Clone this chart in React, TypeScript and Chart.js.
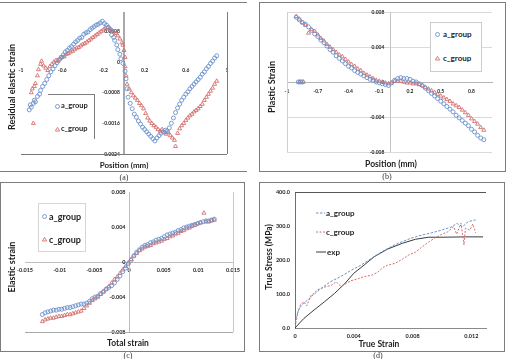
import React, { useEffect, useRef } from "react";
import { Chart, registerables } from "chart.js";

Chart.register(...registerables);

type Pt = [number, number];

const GROUP_A = "a_group";
const GROUP_C = "c_group";
const EXP_LABEL = "exp";

// ---------- (a) residual elastic strain vs. position ----------
const positionTicksA = [-1, -0.6, -0.2, 0.2, 0.6, 1];
const residualTicks = [-0.0024, -0.0016, -0.0008, 0, 0.0008];
const residualA: Pt[] = [
  [-0.92, -0.00125], [-0.91, -0.00112], [-0.9, -0.00118], [-0.88, -0.00108], [-0.87, -0.001],
  [-0.86, -0.00104], [-0.84, -0.0009], [-0.82, -0.00084], [-0.81, -0.00074], [-0.79, -0.00064],
  [-0.77, -0.00056], [-0.75, -0.00046], [-0.73, -0.00036], [-0.71, -0.00026], [-0.69, -0.00018],
  [-0.67, -0.0001], [-0.65, -0.00002], [-0.63, 0.00006], [-0.61, 0.00012], [-0.59, 0.00018],
  [-0.57, 0.00026], [-0.55, 0.0003], [-0.53, 0.00036], [-0.51, 0.0004], [-0.49, 0.00046],
  [-0.47, 0.00052], [-0.45, 0.00056], [-0.43, 0.00062], [-0.41, 0.00064], [-0.39, 0.00072],
  [-0.37, 0.00076], [-0.35, 0.00078], [-0.33, 0.00084], [-0.31, 0.00088], [-0.29, 0.00092],
  [-0.27, 0.00096], [-0.25, 0.00098], [-0.23, 0.00102], [-0.21, 0.00106], [-0.19, 0.001],
  [-0.17, 0.00096], [-0.15, 0.0009], [-0.13, 0.00084], [-0.12, 0.0007], [-0.1, 0.00064],
  [-0.09, 0.00056], [-0.07, 0.00044], [-0.06, 0.00032], [-0.04, 0.0002], [-0.03, 0.00008],
  [-0.01, -0.00004], [0.01, -0.00024], [0.02, -0.00044], [0.03, -0.0007], [0.04, -0.00092],
  [0.06, -0.00108], [0.08, -0.00122], [0.1, -0.00136], [0.12, -0.00144], [0.14, -0.00154],
  [0.16, -0.00162], [0.18, -0.0017], [0.2, -0.00176], [0.22, -0.00182], [0.24, -0.00188],
  [0.26, -0.00194], [0.28, -0.002], [0.3, -0.00206], [0.32, -0.00198], [0.34, -0.00192],
  [0.36, -0.00186], [0.38, -0.00182], [0.4, -0.00178], [0.42, -0.0018], [0.44, -0.00172],
  [0.46, -0.0016], [0.48, -0.00146], [0.5, -0.00132], [0.52, -0.0012], [0.54, -0.0011],
  [0.56, -0.001], [0.58, -0.00092], [0.6, -0.00084], [0.62, -0.00078], [0.64, -0.0007],
  [0.66, -0.00064], [0.68, -0.00058], [0.7, -0.00052], [0.72, -0.00046], [0.74, -0.0004],
  [0.76, -0.00032], [0.78, -0.00026], [0.8, -0.00018], [0.82, -0.00012], [0.84, -0.00004],
  [0.86, 0.00002], [0.88, 0.0001], [0.9, 0.00016],
];
const residualC: Pt[] = [
  [-0.9, -0.0008], [-0.89, -0.0007], [-0.88, -0.0016], [-0.87, -0.00064], [-0.86, -0.00056],
  [-0.84, -0.00036], [-0.83, -0.0002], [-0.81, -0.00006], [-0.8, 0.00002], [-0.78, -0.0001],
  [-0.76, -0.00016], [-0.74, -0.00022], [-0.72, -0.00012], [-0.7, -0.00006], [-0.68, 0.0],
  [-0.66, 0.00004], [-0.64, 0.00002], [-0.62, 0.00008], [-0.6, 0.00012], [-0.58, 0.00014],
  [-0.56, 0.0002], [-0.54, 0.00022], [-0.52, 0.00026], [-0.5, 0.00028], [-0.48, 0.00032],
  [-0.46, 0.00036], [-0.44, 0.00038], [-0.42, 0.00042], [-0.4, 0.00046], [-0.38, 0.00048],
  [-0.36, 0.00052], [-0.34, 0.00056], [-0.32, 0.0006], [-0.3, 0.00064], [-0.28, 0.00068],
  [-0.26, 0.00072], [-0.24, 0.00076], [-0.22, 0.0008], [-0.2, 0.00084], [-0.18, 0.00088],
  [-0.16, 0.0009], [-0.14, 0.00086], [-0.12, 0.00082], [-0.1, 0.00078], [-0.08, 0.00074],
  [-0.06, 0.00068], [-0.04, 0.0006], [-0.02, 0.0005], [-0.01, 0.00044], [0.0, 0.0003],
  [0.01, 0.00012], [0.01, -0.00012], [0.02, -0.00036], [0.03, -0.00058], [0.05, -0.0007],
  [0.07, -0.0008], [0.09, -0.00088], [0.11, -0.00094], [0.13, -0.001], [0.15, -0.00108],
  [0.17, -0.00114], [0.19, -0.00122], [0.21, -0.00134], [0.23, -0.00146], [0.25, -0.00154],
  [0.27, -0.0016], [0.29, -0.00166], [0.31, -0.0017], [0.33, -0.00176], [0.35, -0.0018],
  [0.37, -0.00176], [0.39, -0.00184], [0.41, -0.00188], [0.43, -0.00184], [0.45, -0.00192],
  [0.47, -0.00198], [0.49, -0.00204], [0.5, -0.0022], [0.52, -0.00186], [0.54, -0.00174],
  [0.56, -0.00166], [0.58, -0.0016], [0.6, -0.00152], [0.62, -0.00146], [0.64, -0.0014],
  [0.66, -0.00136], [0.68, -0.0013], [0.7, -0.00126], [0.72, -0.00122], [0.74, -0.00116],
  [0.76, -0.0011], [0.78, -0.001], [0.8, -0.00092], [0.82, -0.00084], [0.84, -0.00076],
  [0.86, -0.00068], [0.88, -0.00058], [0.9, -0.0005],
];

// ---------- (b) plastic strain vs. position ----------
const positionTicksB = [-1, -0.7, -0.4, -0.1, 0.2, 0.5, 0.8];
const plasticTicks = [-0.008, -0.004, 0, 0.004, 0.008];
const plasticA: Pt[] = [
  [-0.89, 0], [-0.87, 0], [-0.85, 0],
  [-0.91, 0.0074], [-0.88, 0.0071], [-0.85, 0.0068], [-0.82, 0.0066], [-0.79, 0.0063],
  [-0.76, 0.0059], [-0.73, 0.0055], [-0.7, 0.0052], [-0.67, 0.0048], [-0.64, 0.0045],
  [-0.61, 0.0041], [-0.58, 0.0037], [-0.55, 0.0034], [-0.52, 0.003], [-0.49, 0.0027],
  [-0.46, 0.0024], [-0.43, 0.0021], [-0.4, 0.0018], [-0.37, 0.0016], [-0.34, 0.0013],
  [-0.31, 0.0011], [-0.28, 0.0009], [-0.25, 0.0007], [-0.22, 0.0005], [-0.19, 0.0003],
  [-0.16, 0.0002], [-0.13, 0.0], [-0.1, -0.0001], [-0.07, -0.0002], [-0.04, -0.0003],
  [-0.01, -0.0004], [0.02, -0.0001], [0.05, 0.0002], [0.08, 0.0004], [0.11, 0.0005],
  [0.14, 0.0004], [0.17, 0.0004], [0.2, 0.0003], [0.23, 0.0001], [0.26, 0.0],
  [0.29, -0.0002], [0.32, -0.0004], [0.35, -0.0007], [0.38, -0.001], [0.41, -0.0013],
  [0.44, -0.0016], [0.47, -0.0019], [0.5, -0.0022], [0.53, -0.0025], [0.56, -0.0028],
  [0.59, -0.0031], [0.62, -0.0034], [0.65, -0.0038], [0.68, -0.0041], [0.71, -0.0044],
  [0.74, -0.0047], [0.77, -0.005], [0.8, -0.0054], [0.83, -0.0057], [0.86, -0.0061],
  [0.89, -0.0064], [0.92, -0.0066],
];
const plasticC: Pt[] = [
  [-0.88, 0], [-0.86, 0], [-0.84, 0],
  [-0.91, 0.0075], [-0.88, 0.0072], [-0.85, 0.0068], [-0.82, 0.0065], [-0.79, 0.0056],
  [-0.76, 0.006], [-0.73, 0.0058], [-0.7, 0.0054], [-0.67, 0.005], [-0.64, 0.0047],
  [-0.61, 0.0043], [-0.58, 0.004], [-0.55, 0.0037], [-0.52, 0.0034], [-0.49, 0.0031],
  [-0.46, 0.0029], [-0.43, 0.0026], [-0.4, 0.0023], [-0.37, 0.002], [-0.34, 0.0018],
  [-0.31, 0.0015], [-0.28, 0.0013], [-0.25, 0.001], [-0.22, 0.0008], [-0.19, 0.0006],
  [-0.16, 0.0004], [-0.13, 0.0002], [-0.1, 0.0001], [-0.07, 0.0], [-0.04, -0.0001],
  [-0.01, -0.0002], [0.02, -0.0001], [0.05, 0.0001], [0.08, 0.0001], [0.11, 0.0001],
  [0.14, 0.0], [0.17, -0.0001], [0.2, -0.0001], [0.23, -0.0002], [0.26, -0.0002],
  [0.29, -0.0003], [0.32, -0.0004], [0.35, -0.0006], [0.38, -0.0008], [0.41, -0.001],
  [0.44, -0.0012], [0.47, -0.0014], [0.5, -0.0016], [0.53, -0.0018], [0.56, -0.002],
  [0.59, -0.0022], [0.62, -0.0025], [0.65, -0.0027], [0.68, -0.0029], [0.71, -0.0032],
  [0.74, -0.0035], [0.77, -0.0038], [0.8, -0.0042], [0.83, -0.0045], [0.86, -0.0048],
  [0.89, -0.0052], [0.92, -0.0055],
];

// ---------- (c) elastic strain vs. total strain ----------
const totalStrainTicks = [-0.015, -0.01, -0.005, 0, 0.005, 0.01, 0.015];
const elasticTicks = [-0.008, -0.004, 0, 0.004, 0.008];
const elasticA: Pt[] = [
  [-0.0125, -0.006], [-0.0121, -0.0058], [-0.0117, -0.0057], [-0.0113, -0.0056], [-0.0109, -0.0055],
  [-0.0105, -0.0055], [-0.0101, -0.0054], [-0.0097, -0.0054], [-0.0093, -0.0053], [-0.0089, -0.0052],
  [-0.0085, -0.0052], [-0.0081, -0.0051], [-0.0077, -0.005], [-0.0073, -0.0049], [-0.0069, -0.0048],
  [-0.0065, -0.0048], [-0.0061, -0.0047], [-0.0057, -0.0045], [-0.0053, -0.0042], [-0.0049, -0.004],
  [-0.0045, -0.0039], [-0.0041, -0.0036], [-0.0037, -0.0034], [-0.0033, -0.0031], [-0.0029, -0.0029],
  [-0.0025, -0.0027], [-0.0021, -0.0024], [-0.0017, -0.002], [-0.0013, -0.0016], [-0.0009, -0.0011],
  [-0.0005, -0.0007], [-0.0001, -0.0002], [0.0003, 0.0002], [0.0007, 0.0007], [0.0011, 0.0011],
  [0.0015, 0.0014], [0.0019, 0.0017], [0.0023, 0.0019], [0.0027, 0.002], [0.0031, 0.0022],
  [0.0035, 0.0023], [0.0039, 0.0025], [0.0043, 0.0026], [0.0047, 0.0027], [0.0051, 0.0029],
  [0.0055, 0.0031], [0.0059, 0.0032], [0.0063, 0.0033], [0.0067, 0.0034], [0.0071, 0.0036],
  [0.0075, 0.0037], [0.0079, 0.0039], [0.0083, 0.004], [0.0087, 0.0041], [0.0091, 0.0042],
  [0.0095, 0.0043], [0.0099, 0.0044], [0.0103, 0.0045], [0.0107, 0.0046], [0.0111, 0.0047],
  [0.0115, 0.0047], [0.0119, 0.0048], [0.0123, 0.0049],
];
const elasticC: Pt[] = [
  [-0.0125, -0.0068], [-0.0121, -0.0066], [-0.0117, -0.0065], [-0.0113, -0.0064], [-0.0109, -0.0064],
  [-0.0105, -0.0063], [-0.0101, -0.0062], [-0.0097, -0.0062], [-0.0093, -0.0061], [-0.0089, -0.006],
  [-0.0085, -0.006], [-0.0081, -0.0059], [-0.0077, -0.0058], [-0.0073, -0.0057], [-0.0069, -0.0056],
  [-0.0065, -0.0053], [-0.0061, -0.005], [-0.0057, -0.0047], [-0.0053, -0.0044], [-0.0049, -0.0042],
  [-0.0045, -0.004], [-0.0041, -0.0037], [-0.0037, -0.0034], [-0.0033, -0.0031], [-0.0029, -0.0028],
  [-0.0025, -0.0024], [-0.0021, -0.002], [-0.0017, -0.0017], [-0.0013, -0.0013], [-0.0009, -0.0009],
  [-0.0005, -0.0005], [-0.0001, -0.0001], [0.0003, 0.0003], [0.0007, 0.0007], [0.0011, 0.001],
  [0.0015, 0.0013], [0.0019, 0.0015], [0.0023, 0.0017], [0.0027, 0.0018], [0.0031, 0.0019],
  [0.0035, 0.0021], [0.0039, 0.0022], [0.0043, 0.0023], [0.0047, 0.0024], [0.0051, 0.0026],
  [0.0055, 0.0027], [0.0059, 0.0029], [0.0063, 0.003], [0.0067, 0.0032], [0.0071, 0.0033],
  [0.0075, 0.0035], [0.0079, 0.0036], [0.0083, 0.0038], [0.0087, 0.0039], [0.0091, 0.0041],
  [0.0095, 0.0042], [0.0099, 0.0044], [0.0103, 0.0045], [0.0108, 0.0056], [0.0111, 0.0046],
  [0.0115, 0.0046], [0.0119, 0.0047], [0.0123, 0.0048],
];

// ---------- (d) true stress vs. true strain ----------
const trueStrainTicks = [0, 0.004, 0.008, 0.012];
const stressTicks = [0, 100, 200, 300, 400];
const stressA: Pt[] = [
  [0.0, 4], [0.00005, 28], [0.0003, 58], [0.0006, 73], [0.0011, 92], [0.0018, 117], [0.0024, 136],
  [0.0031, 151], [0.0038, 169], [0.0045, 185], [0.0052, 205], [0.0059, 224], [0.0066, 241],
  [0.0073, 254], [0.0079, 264], [0.0086, 273], [0.0093, 280], [0.01, 288], [0.0107, 298],
  [0.011, 308], [0.0114, 298], [0.0118, 313], [0.0123, 318],
];
const stressC: Pt[] = [
  [0.0, 4], [0.0001, 24], [0.0002, 48], [0.0004, 71], [0.0006, 77], [0.0008, 65], [0.0011, 97],
  [0.0013, 102], [0.0015, 112], [0.002, 120], [0.0025, 126], [0.0028, 136], [0.0031, 123],
  [0.0034, 129], [0.0038, 139], [0.0043, 145], [0.0047, 151], [0.0052, 155], [0.0056, 163],
  [0.006, 178], [0.0063, 185], [0.0068, 190], [0.0073, 202], [0.0077, 214], [0.0082, 223],
  [0.0086, 237], [0.0091, 253], [0.0095, 264], [0.01, 276], [0.0104, 283], [0.0108, 298],
  [0.011, 276], [0.0113, 308], [0.0115, 244], [0.0116, 293], [0.0119, 288], [0.0121, 306],
  [0.0123, 280],
];
const stressExp: Pt[] = [
  [0.0, 0], [0.0006, 28], [0.0013, 53], [0.002, 77], [0.0027, 102], [0.0034, 131], [0.004, 161],
  [0.0047, 185], [0.0054, 210], [0.0063, 232], [0.0073, 249], [0.0082, 261], [0.0091, 267],
  [0.01, 267], [0.0116, 268], [0.0128, 268],
];

const BLUE = "#6b92cc";
const RED = "#d2706e";
const EXP_COLOR = "#3b3b3b";
const INK = "#1e1e1e";
const FONT = "Lato, 'Open Sans', sans-serif";

const tickFont = (size: number) => ({ family: FONT, size, weight: "bold" as const });
const fixTicks = (values: number[]) => (scale: any) => {
  scale.ticks = values.map((value) => ({ value }));
};
const fixHeight = (h: number) => (scale: any) => {
  scale.height = h;
};
const fixWidth = (w: number) => (scale: any) => {
  scale.width = w;
};
const asXY = (pts: Pt[]) => pts.map(([x, y]) => ({ x, y }));

// Plot-area frame sides and zero reference lines, drawn behind the data.
const guidesPlugin = {
  id: "guides",
  beforeDatasetsDraw(chart: any, _args: any, opts: any) {
    const { ctx, chartArea, scales } = chart;
    const { left, right, top, bottom } = chartArea;
    const stroke = (x1: number, y1: number, x2: number, y2: number, color: string, width: number) => {
      ctx.save();
      ctx.strokeStyle = color;
      ctx.lineWidth = width;
      ctx.beginPath();
      ctx.moveTo(x1, y1);
      ctx.lineTo(x2, y2);
      ctx.stroke();
      ctx.restore();
    };
    const frame = opts.frame || {};
    const a = (v: number) => Math.round(v) + 0.5;
    if (frame.top) stroke(left, a(top), right, a(top), frame.top, 1);
    if (frame.bottom) stroke(left, a(bottom), right, a(bottom), frame.bottom, 1);
    if (frame.left) stroke(a(left), top, a(left), bottom, frame.left, 1);
    if (frame.right) stroke(a(right), top, a(right), bottom, frame.right, 1);
    for (const g of opts.lines || []) {
      if (g.axis === "x") {
        const px = Math.round(scales.x.getPixelForValue(g.value)) + (g.width % 2 ? 0.5 : 0);
        stroke(px, top, px, bottom, g.color, g.width);
      } else {
        const py = Math.round(scales.y.getPixelForValue(g.value)) + (g.width % 2 ? 0.5 : 0);
        stroke(left, py, right, py, g.color, g.width);
      }
    }
  },
};

const scatterSet = (label: string, pts: Pt[], color: string, style: string) => ({
  label,
  data: asXY(pts),
  showLine: false,
  pointStyle: style,
  pointRadius: style === "triangle" ? 2.3 : 2,
  pointBorderWidth: 0.9,
  pointBorderColor: color,
  pointBackgroundColor: "rgba(0,0,0,0)",
  borderColor: color,
  backgroundColor: "rgba(0,0,0,0)",
});

const lineSet = (label: string, pts: Pt[], color: string, dash: number[]) => ({
  label,
  data: asXY(pts),
  showLine: true,
  pointRadius: 0,
  borderWidth: 1,
  borderDash: dash,
  borderColor: color,
  backgroundColor: color,
  tension: 0,
});

const baseOptions = (padding: any, guides: any, scales: any) => ({
  animation: false as const,
  responsive: false,
  events: [] as any[],
  layout: { padding },
  plugins: { legend: { display: false }, tooltip: { enabled: false }, title: { display: false }, guides },
  scales,
});

// Axes that cross at the origin: they take no layout room, labels sit next to the zero lines.
const centeredX = (min: number, max: number, ticks: number[], size: number, pad: number, border: any) => ({
  type: "linear",
  min,
  max,
  position: { y: 0 },
  afterBuildTicks: fixTicks(ticks),
  afterFit: fixHeight(0),
  grid: { display: false, drawTicks: false },
  border,
  ticks: { font: tickFont(size), color: INK, padding: pad, maxRotation: 0, autoSkip: false, callback: (v: any) => String(v) },
});

const centeredY = (min: number, max: number, ticks: number[], at: number, size: number, grid: any) => ({
  type: "linear",
  min,
  max,
  position: { x: at },
  afterBuildTicks: fixTicks(ticks),
  afterFit: fixWidth(0),
  grid,
  border: { display: false },
  ticks: { font: tickFont(size), color: INK, autoSkip: false, callback: (v: any) => String(v) },
});

function configA(): any {
  return {
    type: "scatter",
    data: {
      datasets: [scatterSet(GROUP_A, residualA, BLUE, "circle"), scatterSet(GROUP_C, residualC, RED, "triangle")],
    },
    options: baseOptions(
      { left: 21, top: 12, right: 23, bottom: 21 },
      { frame: { bottom: "#7a7a7a", right: "#7a7a7a" }, lines: [{ axis: "x", value: 0, color: "#a9a9a9", width: 2 }] },
      {
        x: centeredX(-1, 1, positionTicksA, 5, 5, { display: false }),
        y: centeredY(-0.0024, 0.0013, residualTicks, -0.04, 5, { display: false, drawTicks: false }),
      }
    ),
    plugins: [guidesPlugin],
  };
}

function configB(): any {
  return {
    type: "scatter",
    data: {
      datasets: [scatterSet(GROUP_A, plasticA, BLUE, "circle"), scatterSet(GROUP_C, plasticC, RED, "triangle")],
    },
    options: baseOptions(
      { left: 31, top: 12, right: 15, bottom: 23 },
      { frame: { left: "#cfcfcf" }, lines: [{ axis: "x", value: 0, color: "#c4c4c4", width: 1 }] },
      {
        x: centeredX(-1, 1, positionTicksB, 5, 6, { display: true, color: "#b5b5b5", width: 1 }),
        y: centeredY(-0.008, 0.008, plasticTicks, -0.05, 5, { display: true, drawTicks: false, color: "#dadada", lineWidth: 1 }),
      }
    ),
    plugins: [guidesPlugin],
  };
}

function configC(): any {
  return {
    type: "scatter",
    data: {
      datasets: [scatterSet(GROUP_A, elasticA, BLUE, "circle"), scatterSet(GROUP_C, elasticC, RED, "triangle")],
    },
    options: baseOptions(
      { left: 25, top: 12, right: 17, bottom: 23 },
      { frame: { bottom: "#a8a8a8", right: "#c8c8c8" }, lines: [{ axis: "x", value: 0, color: "#bdbdbd", width: 1 }] },
      {
        x: centeredX(-0.015, 0.015, totalStrainTicks, 5.5, 5, { display: true, color: "#bdbdbd", width: 1 }),
        y: centeredY(-0.008, 0.008, elasticTicks, -0.0005, 5.5, { display: false, drawTicks: false }),
      }
    ),
    plugins: [guidesPlugin],
  };
}

function configD(): any {
  return {
    type: "scatter",
    data: {
      datasets: [
        lineSet(GROUP_A, stressA, BLUE, [2.5, 1.5]),
        lineSet(GROUP_C, stressC, RED, [2, 1.5]),
        lineSet(EXP_LABEL, stressExp, EXP_COLOR, []),
      ],
    },
    options: baseOptions(
      { left: 0, top: 12, right: 21, bottom: 0 },
      { frame: { top: "#555555" } },
      {
        x: {
          type: "linear",
          min: 0,
          max: 0.013,
          position: "bottom",
          afterBuildTicks: fixTicks(trueStrainTicks),
          afterFit: fixHeight(27),
          grid: { display: false, drawTicks: false },
          border: { display: true, color: "#8a8a8a", width: 1 },
          ticks: { font: tickFont(5.5), color: INK, padding: 5, maxRotation: 0, autoSkip: false, callback: (v: any) => String(v) },
        },
        y: {
          type: "linear",
          min: 0,
          max: 400,
          position: "left",
          afterBuildTicks: fixTicks(stressTicks),
          afterFit: fixWidth(39),
          grid: { display: false, drawTicks: false },
          border: { display: true, color: "#6e6e6e", width: 1 },
          ticks: { font: tickFont(5.5), color: INK, padding: 5, autoSkip: false, callback: (v: any) => Number(v).toFixed(1) },
        },
      }
    ),
    plugins: [guidesPlugin],
  };
}

const abs = (s: React.CSSProperties): React.CSSProperties => ({ position: "absolute", ...s });

function Rule({ x, y, w, h, color }: { x: number; y: number; w: number; h: number; color: string }) {
  return <div style={abs({ left: x, top: y, width: w, height: h, background: color })} />;
}

function Title({ text, x, y, size, vertical }: { text: string; x: number; y: number; size: number; vertical?: boolean }) {
  return (
    <div
      style={abs({
        left: x,
        top: y,
        transform: vertical ? "translate(-50%,-50%) rotate(-90deg)" : "translate(-50%,-50%)",
        font: `700 ${size}px ${FONT}`,
        color: INK,
        whiteSpace: "nowrap",
        lineHeight: 1,
      })}
    >
      {text}
    </div>
  );
}

function Caption({ text, x, y }: { text: string; x: number; y: number }) {
  return (
    <div
      style={abs({
        left: x,
        top: y,
        transform: "translate(-50%,-50%)",
        font: `8px "Liberation Serif", "DejaVu Serif", serif`,
        color: "#333",
        whiteSpace: "nowrap",
        lineHeight: 1,
      })}
    >
      {text}
    </div>
  );
}

function Marker({ kind, color, x, y }: { kind: "circle" | "triangle"; color: string; x: number; y: number }) {
  return (
    <svg width={7} height={7} style={abs({ left: x - 3.5, top: y - 3.5 })}>
      {kind === "circle" ? (
        <circle cx={3.5} cy={3.5} r={2} fill="none" stroke={color} strokeWidth={0.9} />
      ) : (
        <polygon points="3.5,1.3 5.6,5 1.4,5" fill="none" stroke={color} strokeWidth={0.9} />
      )}
    </svg>
  );
}

function LineKey({ color, dash, x1, x2, y }: { color: string; dash: string; x1: number; x2: number; y: number }) {
  return (
    <svg width={x2 - x1} height={4} style={abs({ left: x1, top: y - 2 })}>
      <line x1={0} y1={2} x2={x2 - x1} y2={2} stroke={color} strokeWidth={1} strokeDasharray={dash} />
    </svg>
  );
}

function KeyText({ text, x, y, size }: { text: string; x: number; y: number; size: number }) {
  return (
    <div
      style={abs({
        left: x,
        top: y,
        transform: "translateY(-50%)",
        font: `700 ${size}px ${FONT}`,
        color: INK,
        whiteSpace: "nowrap",
        lineHeight: 1,
      })}
    >
      {text}
    </div>
  );
}

export default function App() {
  const refA = useRef<HTMLCanvasElement>(null);
  const refB = useRef<HTMLCanvasElement>(null);
  const refC = useRef<HTMLCanvasElement>(null);
  const refD = useRef<HTMLCanvasElement>(null);

  useEffect(() => {
    const charts = [
      new Chart(refA.current as HTMLCanvasElement, configA()),
      new Chart(refB.current as HTMLCanvasElement, configB()),
      new Chart(refC.current as HTMLCanvasElement, configC()),
      new Chart(refD.current as HTMLCanvasElement, configD()),
    ];
    return () => charts.forEach((c) => c.destroy());
  }, []);

  const canvasStyle = (left: number, top: number, w: number, h: number) => abs({ left, top, width: w, height: h });

  return (
    <div style={{ position: "fixed", left: 0, top: 0, width: 507, height: 359, background: "#fff", overflow: "hidden" }}>
      <canvas ref={refA} width={250} height={175} style={canvasStyle(0, 0, 250, 175)} />
      <canvas ref={refB} width={251} height={175} style={canvasStyle(256, 0, 251, 175)} />
      <canvas ref={refC} width={250} height={175} style={canvasStyle(0, 180, 250, 175)} />
      <canvas ref={refD} width={251} height={175} style={canvasStyle(256, 180, 251, 175)} />

      {/* panel frames */}
      <Rule x={0} y={2} w={247} h={1} color="#7d7d7d" />
      <Rule x={0} y={171} w={247} h={1} color="#7d7d7d" />

      <Rule x={259} y={2} w={246} h={1} color="#7d7d7d" />
      <Rule x={259} y={171} w={246} h={1} color="#7d7d7d" />
      <Rule x={259} y={2} w={1} h={170} color="#7d7d7d" />
      <Rule x={505} y={2} w={1} h={170} color="#7d7d7d" />

      <Rule x={0} y={182} w={245} h={1} color="#7d7d7d" />
      <Rule x={0} y={351} w={245} h={1} color="#7d7d7d" />
      <Rule x={0} y={182} w={1} h={170} color="#7d7d7d" />
      <Rule x={244} y={182} w={1} h={170} color="#7d7d7d" />

      <Rule x={259} y={182} w={246} h={1} color="#7d7d7d" />
      <Rule x={259} y={351} w={246} h={1} color="#7d7d7d" />
      <Rule x={259} y={182} w={1} h={170} color="#7d7d7d" />
      <Rule x={504} y={182} w={1} h={170} color="#7d7d7d" />

      {/* (a) titles and key */}
      <Title text="Residual elastic strain" x={11} y={87} size={9} vertical />
      <Title text="Position (mm)" x={124} y={165} size={8} />
      <Rule x={48} y={94} w={46} h={1} color="#7d7d7d" />
      <Rule x={94} y={94} w={1} h={45} color="#7d7d7d" />
      <Marker kind="circle" color={BLUE} x={57} y={106} />
      <KeyText text={GROUP_A} x={61} y={106} size={7.5} />
      <Marker kind="triangle" color={RED} x={57} y={129} />
      <KeyText text={GROUP_C} x={61} y={129} size={7.5} />
      <Caption text="(a)" x={124} y={178} />

      {/* (b) titles and key */}
      <Title text="Plastic Strain" x={271} y={87} size={9} vertical />
      <Title text="Position (mm)" x={391} y={164} size={8.5} />
      <div style={abs({ left: 430, top: 22, width: 50, height: 48, border: "1px solid #cdcdcd", background: "#fff" })} />
      <Marker kind="circle" color={BLUE} x={437} y={34} />
      <KeyText text={GROUP_A} x={443} y={34} size={8} />
      <Marker kind="triangle" color={RED} x={437} y={58} />
      <KeyText text={GROUP_C} x={443} y={58} size={8} />
      <Caption text="(b)" x={387} y={177} />

      {/* (c) titles and key */}
      <Title text="Elastic strain" x={11} y={267} size={9} vertical />
      <Title text="Total strain" x={128} y={343} size={8.5} />
      <div style={abs({ left: 38, top: 203, width: 46, height: 47, border: "1px solid #d6d6d6", background: "#fff" })} />
      <Marker kind="circle" color={BLUE} x={44} y={216} />
      <KeyText text={GROUP_A} x={49} y={216} size={9} />
      <Marker kind="triangle" color={RED} x={44} y={239} />
      <KeyText text={GROUP_C} x={49} y={239} size={9} />
      <Caption text="(c)" x={128} y={356} />

      {/* (d) titles and key */}
      <Title text="True Stress (MPa)" x={269} y={257} size={8.5} vertical />
      <Title text="True Strain" x={379} y={344} size={8.5} />
      <LineKey color={BLUE} dash="2.5,1.5" x1={316} x2={325} y={213} />
      <KeyText text={GROUP_A} x={326} y={213} size={8} />
      <LineKey color={RED} dash="2,1.5" x1={316} x2={325} y={232} />
      <KeyText text={GROUP_C} x={326} y={232} size={8} />
      <LineKey color={EXP_COLOR} dash="" x1={316} x2={326} y={252} />
      <KeyText text={EXP_LABEL} x={327} y={252} size={8} />
      <Caption text="(d)" x={378} y={356} />
    </div>
  );
}
